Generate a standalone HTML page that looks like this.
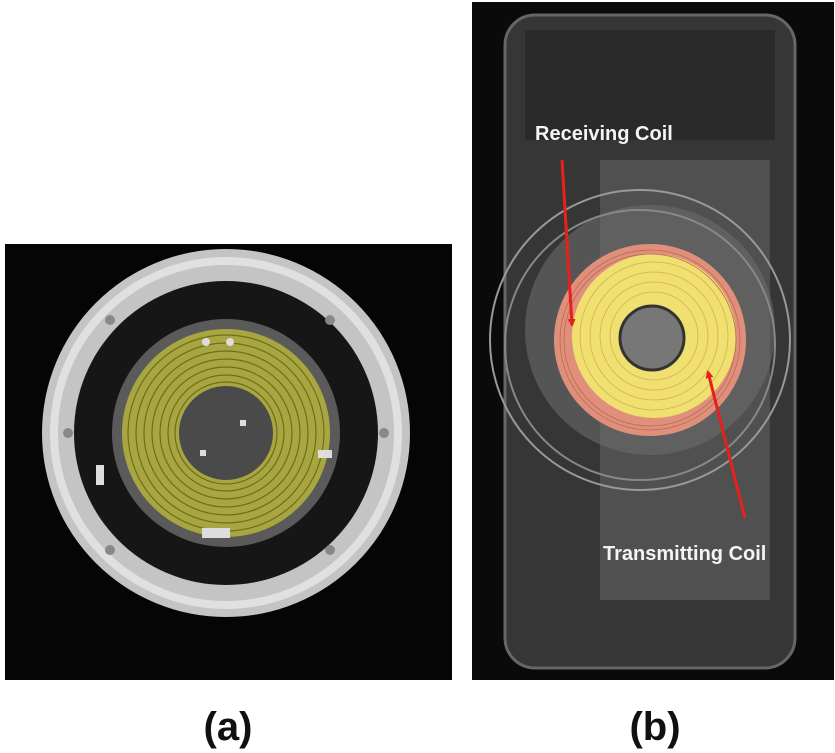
<!DOCTYPE html>
<html><head><meta charset="utf-8"><style>
html,body{margin:0;padding:0;background:#fff;width:835px;height:753px;overflow:hidden}
svg{display:block}
</style></head><body>
<svg width="835" height="753" viewBox="0 0 835 753" xmlns="http://www.w3.org/2000/svg">
<defs>
<marker id="ah" markerWidth="8" markerHeight="8" refX="6" refY="4" orient="auto" markerUnits="userSpaceOnUse">
<path d="M0,0 L8,4 L0,8 z" fill="#e8201c"/></marker>
</defs>
<rect x="5" y="244" width="447" height="436" fill="#050505"/>
<circle cx="226" cy="433" r="184" fill="#c4c4c4"/>
<circle cx="226" cy="433" r="172" fill="none" stroke="#e0e0e0" stroke-width="8"/>
<circle cx="226" cy="433" r="152" fill="#161616"/>
<circle cx="226" cy="433" r="114" fill="#5a5a5a"/>
<circle cx="226" cy="433" r="104" fill="#a8a640"/>
<g fill="none" stroke="#6f6c20" stroke-width="1.2">
<circle cx="226" cy="433" r="98"/><circle cx="226" cy="433" r="90"/><circle cx="226" cy="433" r="82"/>
<circle cx="226" cy="433" r="74"/><circle cx="226" cy="433" r="66"/><circle cx="226" cy="433" r="58"/><circle cx="226" cy="433" r="51"/>
</g>
<circle cx="226" cy="433" r="47" fill="#4a4a4a"/>
<g fill="#ddd"><circle cx="206" cy="342" r="4"/><circle cx="230" cy="342" r="4"/>
<rect x="202" y="528" width="28" height="10"/><rect x="96" y="465" width="8" height="20"/><rect x="318" y="450" width="14" height="8"/>
<rect x="200" y="450" width="6" height="6"/><rect x="240" y="420" width="6" height="6"/></g>
<g fill="#888"><circle cx="68" cy="433" r="5"/><circle cx="384" cy="433" r="5"/><circle cx="110" cy="320" r="5"/><circle cx="330" cy="320" r="5"/><circle cx="110" cy="550" r="5"/><circle cx="330" cy="550" r="5"/></g>
<rect x="472" y="2" width="362" height="678" fill="#0a0a0a"/>
<rect x="505" y="15" width="290" height="653" rx="30" fill="#363636" stroke="#666" stroke-width="3"/>
<rect x="600" y="160" width="170" height="440" fill="#505050"/>
<rect x="525" y="30" width="250" height="110" fill="#2a2a2a"/>
<circle cx="640" cy="340" r="150" fill="none" stroke="#999" stroke-width="2"/>
<circle cx="650" cy="330" r="125" fill="#6a6a6a" opacity="0.6"/>
<circle cx="640" cy="345" r="135" fill="none" stroke="#888" stroke-width="2"/>
<circle cx="650" cy="340" r="96" fill="#e0907a"/>
<circle cx="654" cy="336" r="82" fill="#f0e070"/>
<g fill="none" stroke="#c99a50" stroke-width="0.8" opacity="0.7">
<circle cx="654" cy="336" r="74"/><circle cx="654" cy="336" r="64"/><circle cx="654" cy="336" r="54"/><circle cx="654" cy="336" r="44"/></g>
<g fill="none" stroke="#b86a58" stroke-width="0.8"><circle cx="650" cy="340" r="90"/><circle cx="650" cy="340" r="86"/></g>
<circle cx="652" cy="338" r="32" fill="#777" stroke="#333" stroke-width="3"/>
<line x1="562" y1="160" x2="572" y2="325" stroke="#e8201c" stroke-width="3" marker-end="url(#ah)"/>
<line x1="745" y1="518" x2="708" y2="372" stroke="#e8201c" stroke-width="3" marker-end="url(#ah)"/>
<text x="535" y="140" font-family="Liberation Sans, sans-serif" font-size="20" font-weight="bold" fill="#f4f4f4">Receiving Coil</text>
<text x="603" y="560" font-family="Liberation Sans, sans-serif" font-size="20" font-weight="bold" fill="#f4f4f4">Transmitting Coil</text>
<text x="228" y="740" text-anchor="middle" font-family="Liberation Sans, sans-serif" font-size="40" font-weight="bold" fill="#111">(a)</text>
<text x="655" y="740" text-anchor="middle" font-family="Liberation Sans, sans-serif" font-size="40" font-weight="bold" fill="#111">(b)</text>
</svg>
</body></html>
